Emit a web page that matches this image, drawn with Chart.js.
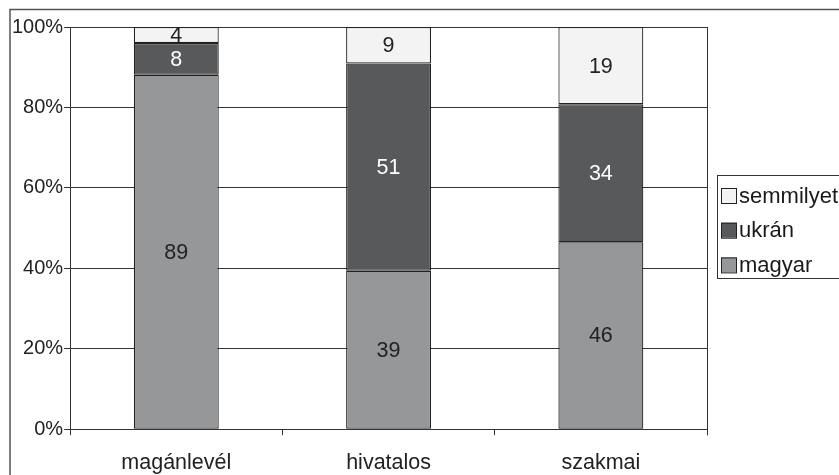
<!DOCTYPE html>
<html>
<head>
<meta charset="utf-8">
<script src="https://cdn.jsdelivr.net/npm/chart.js@4"></script>
<style>
html,body{margin:0;padding:0;background:#fff;}
#wrap{width:839px;height:475px;position:relative;}
</style>
</head>
<body>
<div id="wrap"><canvas id="c" width="839" height="475"></canvas></div>
<script>
const categories = ['magánlevél', 'hivatalos', 'szakmai'];
const magyar = [89, 39, 46];
const ukran = [8, 51, 34];
const semmilyet = [4, 9, 19];
const yTicks = [0, 20, 40, 60, 80, 100];

const seriesNames = ['magyar', 'ukrán', 'semmilyet'];
const seriesRaw = [magyar, ukran, semmilyet];
const seriesColors = ['#969799', '#58595b', '#f3f3f3'];
const labelColors = ['#222222', '#ffffff', '#222222'];

const totals = categories.map((_, i) => seriesRaw.reduce((s, arr) => s + arr[i], 0));
const datasets = seriesRaw.map((arr, k) => ({
  label: seriesNames[k],
  raw: arr,
  data: arr.map((v, i) => v / totals[i] * 100),
  backgroundColor: seriesColors[k],
  borderColor: '#222',
  borderWidth: 1.2,
  borderSkipped: false,
  categoryPercentage: 1,
  barPercentage: 0.4
}));

const FONT = 'Liberation Sans, Arial, sans-serif';

const framePlugin = {
  id: 'frame',
  beforeDraw(chart) {
    const ctx = chart.ctx;
    ctx.save();
    ctx.strokeStyle = '#555';
    ctx.lineWidth = 1.5;
    ctx.strokeRect(10, 9.5, 1000, 1000);
    ctx.restore();
  },
  afterDatasetsDraw(chart) {
    const ctx = chart.ctx, a = chart.chartArea;
    ctx.save();
    ctx.strokeStyle = '#333';
    ctx.lineWidth = 1;
    ctx.beginPath();
    ctx.moveTo(Math.round(a.right) + 0.5, a.top);
    ctx.lineTo(Math.round(a.right) + 0.5, a.bottom + 6);
    ctx.stroke();
    // data labels
    ctx.font = '21.5px ' + FONT;
    ctx.textAlign = 'center';
    ctx.textBaseline = 'middle';
    chart.data.datasets.forEach((ds, k) => {
      const meta = chart.getDatasetMeta(k);
      meta.data.forEach((bar, i) => {
        const cy = (bar.y + bar.base) / 2;
        ctx.fillStyle = labelColors[k];
        ctx.fillText(String(ds.raw[i]), bar.x, cy + 1);
      });
    });
    // legend
    const lx = a.right + 10;
    const lh = 103;
    const ly = a.top + 148;
    ctx.strokeStyle = '#333';
    ctx.lineWidth = 1;
    ctx.fillStyle = '#fff';
    ctx.fillRect(lx, ly, 200, lh);
    ctx.strokeRect(Math.round(lx) + 0.5, Math.round(ly) + 0.5, 200, lh);
    ctx.textAlign = 'left';
    ctx.font = '22px ' + FONT;
    const items = chart.data.datasets.map((d, k) => k).reverse();
    items.forEach((k, r) => {
      const cy = ly + 20.5 + r * 34.7;
      const ds = chart.data.datasets[k];
      ctx.fillStyle = ds.backgroundColor;
      ctx.fillRect(lx + 4, cy - 7.5, 16, 15);
      ctx.strokeStyle = '#222';
      ctx.strokeRect(lx + 4.5, cy - 7, 15, 15);
      ctx.fillStyle = '#1a1a1a';
      ctx.fillText(ds.label, lx + 22, cy + 1);
    });
    ctx.restore();
  }
};

new Chart(document.getElementById('c'), {
  type: 'bar',
  data: { labels: categories, datasets },
  options: {
    responsive: false,
    animation: false,
    devicePixelRatio: 1,
    layout: { padding: { left: 11, right: 132, top: 27, bottom: -16 } },
    plugins: { legend: { display: false }, tooltip: { enabled: false } },
    scales: {
      x: {
        stacked: true,
        offset: true,
        grid: { offset: true, drawOnChartArea: false, drawTicks: true, tickLength: 6, color: '#333', lineWidth: 1 },
        border: { display: true, color: '#333', width: 1 },
        ticks: { color: '#222', font: { family: FONT, size: 21.5 }, padding: 15, maxRotation: 0 }
      },
      y: {
        stacked: true,
        min: 0, max: 100,
        afterBuildTicks(scale) { scale.ticks = yTicks.map(v => ({ value: v })); },
        grid: { color: '#333', lineWidth: 1, tickLength: 6, drawTicks: true },
        border: { display: true, color: '#333', width: 1 },
        ticks: { color: '#222', font: { family: FONT, size: 20 }, padding: 1, callback: v => v + '%' }
      }
    }
  },
  plugins: [framePlugin]
});
</script>
</body>
</html>
